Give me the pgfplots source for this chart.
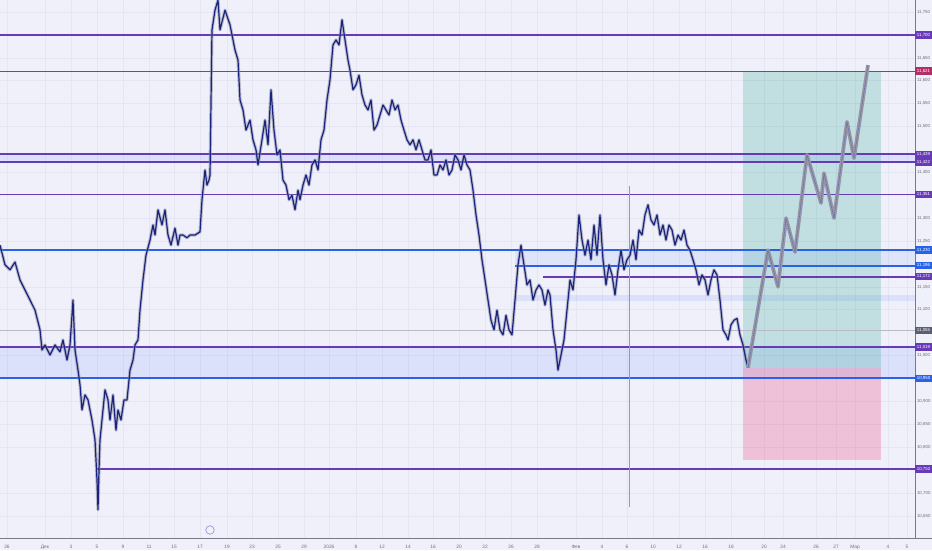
\documentclass[border=0pt]{standalone}
\usepackage{pgfplots}
\pgfplotsset{compat=1.18}
\usepackage{fontspec}
\setmainfont{Liberation Sans}
\definecolor{bg}{RGB}{240,240,250}
\definecolor{gridc}{RGB}{229,229,243}
\definecolor{purp}{RGB}{103,58,183}
\definecolor{blu}{RGB}{41,98,230}
\definecolor{redl}{RGB}{180,45,100}
\definecolor{navy}{RGB}{26,35,126}
\definecolor{wick}{RGB}{140,142,165}
\definecolor{proj}{RGB}{150,150,168}
\definecolor{ticktext}{RGB}{110,112,125}
\definecolor{axisc}{RGB}{120,123,134}
\definecolor{grayl}{RGB}{185,185,200}
\definecolor{graybox}{RGB}{90,94,112}
\definecolor{tealc}{RGB}{8,153,129}
\definecolor{pinkc}{RGB}{233,30,99}
\definecolor{bluef}{RGB}{41,98,255}

\pgfplotstableread{
x y
0 11241
5 11198
10 11187
15 11204
20 11165
25 11143
30 11121
35 11099
40 11056
42 11012
45 11023
50 11001
55 11023
60 11008
63 11034
67 10990
70 11023
73 11121
75 11012
78 10968
80 10936
82 10881
85 10914
88 10903
92 10859
95 10816
97 10728
98 10663
99 10750
100 10816
103 10881
105 10925
108 10903
110 10859
113 10914
116 10837
118 10881
121 10859
124 10903
127 10903
130 10968
133 10990
135 11023
138 11034
140 11099
143 11165
146 11219
150 11252
153 11285
155 11263
158 11318
162 11285
165 11318
168 11263
171 11241
175 11278
178 11241
180 11263
183 11263
187 11257
190 11263
195 11263
200 11270
202 11340
205 11405
207 11372
209 11383
210 11394
212 11711
215 11754
218 11776
220 11711
225 11754
230 11722
235 11667
238 11645
240 11558
243 11536
246 11492
250 11514
253 11471
256 11449
258 11416
262 11471
265 11514
268 11460
271 11580
274 11492
277 11438
280 11449
283 11383
286 11372
289 11340
292 11350
295 11318
298 11361
300 11340
303 11372
306 11394
309 11372
312 11416
315 11427
318 11405
321 11471
324 11492
327 11558
330 11602
333 11678
336 11689
339 11678
342 11733
345 11689
348 11645
350 11623
353 11580
356 11591
359 11612
362 11569
365 11547
368 11536
371 11558
374 11492
377 11503
380 11525
383 11547
386 11536
389 11525
392 11558
395 11536
398 11547
401 11514
404 11492
407 11471
410 11460
413 11471
416 11449
419 11471
422 11449
425 11427
428 11427
431 11449
434 11394
437 11394
440 11416
443 11405
446 11427
449 11394
452 11405
455 11438
458 11427
461 11405
464 11438
467 11416
470 11405
473 11361
476 11307
479 11263
482 11209
485 11165
488 11121
491 11077
494 11056
497 11099
500 11056
503 11045
506 11088
509 11056
512 11045
515 11121
518 11198
521 11241
524 11198
527 11154
530 11165
533 11121
536 11143
539 11154
542 11143
545 11110
548 11143
550 11132
553 11056
556 11012
558 10968
561 11001
564 11034
567 11099
570 11165
573 11143
576 11209
579 11307
582 11252
585 11219
588 11252
591 11209
594 11285
597 11219
600 11307
603 11209
606 11154
609 11198
612 11176
615 11132
618 11187
621 11230
624 11187
627 11209
630 11219
633 11252
636 11209
639 11274
642 11263
645 11307
648 11329
651 11296
654 11285
657 11307
660 11263
663 11285
666 11252
669 11285
672 11274
675 11241
678 11263
681 11252
684 11274
687 11241
690 11230
693 11209
696 11187
699 11154
702 11176
705 11165
708 11132
711 11165
714 11187
717 11176
720 11121
723 11056
726 11045
728 11034
731 11067
734 11077
737 11081
740 11045
743 11023
746 10990
748 10973
}\price

\pgfplotstableread{
x y
748 10973
768 11230
778 11150
786 11300
795 11226
807 11438
821 11333
824 11398
834 11300
847 11510
854 11431
868 11634
}\projection

\begin{document}
\begin{tikzpicture}
\path[use as bounding box] (0,-9pt) rectangle (699pt,403.5pt);
\fill[bg] (0,-9pt) rectangle (699pt,403.5pt);
\begin{axis}[
  at={(0,0)}, anchor=south west,
  width=686.25pt, height=403.5pt, scale only axis,
  xmin=0, xmax=915, ymin=10601.5, ymax=11776.2,
  clip=false,
  axis line style={draw=none},
  major tick length=0pt,
  grid=major, grid style={gridc, line width=0.4pt},
  xtick={7,45,71,97,123,149,174,200,227,252,278,304,329,356,382,408,433,459,485,511,537,576,602,627,653,679,705,731,764,783,816,836,855,888,907},
  xticklabels={26,Дек,3,5,9,11,15,17,19,23,25,29,2026,8,12,14,16,20,22,26,28,Фев,4,6,10,12,16,18,20,24,26,27,Мар,4,5},
  xticklabel style={font=\fontsize{3.6}{4.3}\selectfont, text=ticktext, anchor=north, yshift=-2pt},
  ytick={10650,10700,10800,10850,10900,11000,11100,11150,11250,11300,11400,11500,11550,11600,11650,11750},
  yticklabel pos=right,
  scaled y ticks=false,
  yticklabel style={font=\fontsize{3.3}{4}\selectfont, text=ticktext, anchor=west, inner xsep=0.3pt, xshift=1pt,
    /pgf/number format/.cd, fixed, precision=0, 1000 sep={,}, assume math mode=true},
]
% bands
\fill[bluef, opacity=0.10] (axis cs:0,10950) rectangle (axis cs:915,11019);
\fill[bluef, opacity=0.10] (axis cs:0,11422) rectangle (axis cs:915,11439);
\fill[bluef, opacity=0.08] (axis cs:515,11196) rectangle (axis cs:915,11230);
\fill[bluef, opacity=0.10] (axis cs:515,11119) rectangle (axis cs:915,11132);
% long position tool
\fill[tealc, opacity=0.20] (axis cs:743,10973) rectangle (axis cs:881,11621);
\fill[pinkc, opacity=0.22] (axis cs:743,10772) rectangle (axis cs:881,10973);
% horizontal levels
\addplot[purp, line width=1.5pt] coordinates {(0,11700) (915,11700)};
\addplot[redl, line width=0.8pt] coordinates {(0,11621) (915,11621)};
\addplot[purp, line width=1.5pt] coordinates {(0,11439) (915,11439)};
\addplot[purp, line width=1.5pt] coordinates {(0,11422) (915,11422)};
\addplot[purp, line width=0.8pt] coordinates {(0,11351) (915,11351)};
\addplot[blu, line width=1.5pt] coordinates {(0,11230) (915,11230)};
\addplot[blu, line width=1.5pt] coordinates {(515,11196) (915,11196)};
\addplot[purp, line width=1.5pt] coordinates {(543,11172) (915,11172)};
\addplot[grayl, line width=0.6pt] coordinates {(0,11055) (915,11055)};
\addplot[purp, line width=1.5pt] coordinates {(0,11019) (915,11019)};
\addplot[blu, line width=1.5pt] coordinates {(0,10950) (915,10950)};
\addplot[purp, line width=1.5pt] coordinates {(97,10752) (915,10752)};
% vertical line
\addplot[gray!80, line width=0.5pt] coordinates {(629,10669) (629,11370)};
% price series
\addplot[wick, line width=2.4pt, opacity=0.55, line join=round] table[x=x,y=y] {\price};
\addplot[navy, line width=0.9pt, line join=round] table[x=x,y=y] {\price};
% projected path
\addplot[proj, line width=2.8pt, line join=round] table[x=x,y=y] {\projection};
\addplot[navy!70, line width=0.45pt, line join=round, dash pattern=on 1pt off 0.6pt] table[x=x,y=y] {\projection};
% axis borders
\draw[axisc, line width=0.6pt] (rel axis cs:1,1) -- (rel axis cs:1,0);
\draw[axisc, line width=0.6pt] (rel axis cs:0,0) -- (rel axis cs:1,0);
\draw[purp!60, line width=0.5pt] (axis cs:210,10619) circle (3.2pt);
\coordinate (c1) at (axis cs:915,11700);
\coordinate (c2) at (axis cs:915,11621);
\coordinate (c3) at (axis cs:915,11439);
\coordinate (c4) at (axis cs:915,11422);
\coordinate (c5) at (axis cs:915,11351);
\coordinate (c6) at (axis cs:915,11230);
\coordinate (c7) at (axis cs:915,11196);
\coordinate (c8) at (axis cs:915,11172);
\coordinate (c9) at (axis cs:915,11055);
\coordinate (c10) at (axis cs:915,11019);
\coordinate (c11) at (axis cs:915,10950);
\coordinate (c12) at (axis cs:915,10752);
\coordinate (br) at (axis cs:915,10601.5);
\end{axis}
\draw[axisc, line width=0.6pt] (br) -- (699pt,0);
\tikzset{lbl/.style={anchor=west, text=white, inner sep=0.4pt, minimum width=12.4pt, minimum height=5.6pt, font=\fontsize{3.3}{4}\selectfont}}
\node[lbl, fill=purp] at (c1) {11,700};
\node[lbl, fill=redl] at (c2) {11,621};
\node[lbl, fill=purp] at (c3) {11,439};
\node[lbl, fill=purp] at (c4) {11,422};
\node[lbl, fill=purp] at (c5) {11,351};
\node[lbl, fill=blu] at (c6) {11,230};
\node[lbl, fill=blu] at (c7) {11,196};
\node[lbl, fill=purp] at (c8) {11,172};
\node[lbl, fill=graybox] at (c9) {11,055};
\node[lbl, fill=purp] at (c10) {11,019};
\node[lbl, fill=blu] at (c11) {10,950};
\node[lbl, fill=purp] at (c12) {10,752};
\end{tikzpicture}
\end{document}
